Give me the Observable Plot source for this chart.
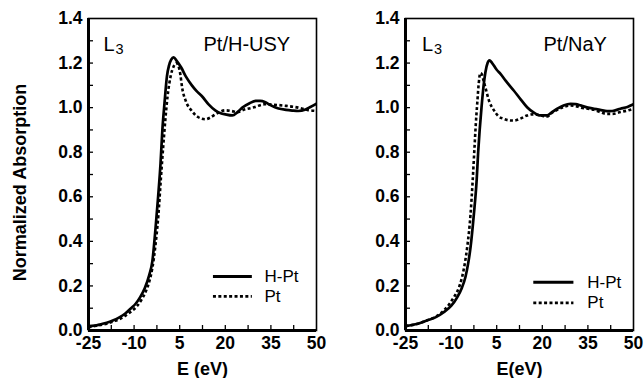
<!DOCTYPE html>
<html><head><meta charset="utf-8">
<script src="https://cdn.jsdelivr.net/npm/d3@7"></script>
<script src="https://cdn.jsdelivr.net/npm/@observablehq/plot@0.6"></script>
<style>
body{margin:0;background:#fff;}
#wrap{display:flex;width:644px;height:378px;overflow:hidden;background:#fff;}
#wrap svg{flex:none;}
</style></head><body><div id="wrap"></div>
<script>
// ---- tick labels / ticks ----
const yTickLabels = [0, 0.2, 0.4, 0.6, 0.8, 1.0, 1.2, 1.4];
const xTickLabels = [-25, -10, 5, 20, 35, 50];
const yMinorTicks = [0.1, 0.2, 0.3, 0.4, 0.5, 0.6, 0.7, 0.8, 0.9, 1.0, 1.1, 1.2, 1.3];
const xMinorTicks = [-17.5, -10, -2.5, 5, 12.5, 20, 27.5, 35, 42.5];
const seriesNames = ["H-Pt", "Pt"];

// ---- Pt/H-USY panel ----
const usyHPtE = [-25,-23,-21,-19,-17,-15,-13,-11,-9.5,-8,-6.5,-5,-4,-3,-2.1,-1.3,-0.7,0,0.8,1.5,2.2,3,4,5.5,7,9,10.5,12.4,14.5,16.8,18.5,20,22.3,24,25.6,28,30,31.5,33.2,35,37.5,40,42,44,46.4,48,50];
const usyHPtA = [0.02,0.022,0.028,0.035,0.045,0.058,0.075,0.1,0.12,0.15,0.19,0.25,0.31,0.45,0.6,0.75,0.9,1.02,1.14,1.19,1.215,1.226,1.21,1.18,1.14,1.1,1.075,1.05,1.015,0.987,0.975,0.97,0.965,0.98,1.0,1.02,1.03,1.03,1.024,1.01,0.996,0.99,0.987,0.985,0.992,1.003,1.018];
const usyPtE = [-25,-23,-21,-19,-17,-15,-13,-11,-9,-7.5,-6,-5,-4,-3,-2,-1.2,-0.4,0.3,1,2,3,3.8,4.5,5.2,5.8,7,9,11,13.5,15,17,20,22,24,26,29,33,36,40,44,47,50];
const usyPtA = [0.015,0.02,0.025,0.03,0.04,0.05,0.065,0.085,0.11,0.14,0.18,0.22,0.28,0.38,0.52,0.68,0.83,0.95,1.05,1.14,1.185,1.2,1.19,1.15,1.09,1.03,0.985,0.958,0.948,0.955,0.972,0.988,0.985,0.98,0.99,1.0,1.015,1.013,1.008,1.0,0.99,0.985];

// ---- Pt/NaY panel ----
const nayHPtE = [-25,-21,-18,-15,-12.4,-10,-8,-6.5,-5.3,-4.4,-3.6,-2.5,-1.6,-1.1,-0.6,0,0.7,1.3,2,2.6,3.5,5,6.25,8,10.6,13,15,17,19.4,21.6,23,24.9,27,29.3,31,32.6,35,37,39,41.3,43,45.7,48,50];
const nayHPtA = [0.02,0.03,0.045,0.06,0.082,0.11,0.149,0.19,0.239,0.3,0.374,0.523,0.673,0.8,0.9,1.0,1.1,1.16,1.2,1.212,1.2,1.17,1.152,1.12,1.077,1.035,1.002,0.98,0.965,0.965,0.978,0.995,1.01,1.017,1.016,1.01,1.0,0.995,0.99,0.984,0.985,0.995,1.003,1.015];
const nayPtE = [-25,-21,-18,-15,-12.4,-10.5,-9.1,-7.5,-6.4,-5.5,-4.7,-3.6,-2.9,-2.3,-1.9,-1.4,-0.9,-0.4,0.1,0.7,1.3,2.5,4,5.5,7.3,9,10.6,13,15,17,19.4,21.6,23,24.9,27,29.3,31,32.6,35,37,39,41.3,43,45.7,48,50];
const nayPtA = [0.02,0.03,0.045,0.062,0.09,0.12,0.149,0.19,0.239,0.3,0.374,0.523,0.673,0.822,0.92,1.02,1.11,1.155,1.15,1.12,1.09,1.03,0.99,0.962,0.95,0.943,0.942,0.952,0.965,0.97,0.965,0.96,0.975,0.99,1.003,1.01,1.007,1.0,0.995,0.99,0.98,0.972,0.972,0.98,0.987,0.995];

const FONT = "'Liberation Sans', Arial, Helvetica, sans-serif";
const toRows = (E, A) => E.map((e, i) => ({E: e, A: A[i]}));
const DASH = "3,2.4";

function panel(o) {
  const W = 322, H = 378, mt = 18, mb = 48;
  const fw = W - o.ml - o.mr, fh = H - mt - mb;
  const marks = [
    Plot.tickY(yMinorTicks, {y: d => d, insetRight: fw - 5, stroke: "#000", strokeWidth: 1.3}),
    Plot.tickX(xMinorTicks, {x: d => d, insetTop: fh - 5, stroke: "#000", strokeWidth: 1.3}),
    Plot.axisY(yTickLabels, {tickSize: 0, tickPadding: 6, tickFormat: d3.format(".1f"), label: null, fontSize: 17.5, fontWeight: "bold"}),
    Plot.axisX(xTickLabels, {tickSize: 0, tickPadding: 6, tickFormat: d => String(d), label: null, fontSize: 17.5, fontWeight: "bold"}),
    Plot.line(toRows(o.hE, o.hA), {x: "E", y: "A", stroke: "#000", strokeWidth: 2.7, curve: "monotone-x", clip: true}),
    Plot.line(toRows(o.pE, o.pA), {x: "E", y: "A", stroke: "#000", strokeWidth: 2.6, strokeDasharray: DASH, strokeLinecap: "butt", curve: "monotone-x", clip: true}),
    Plot.frame({stroke: "#000", strokeWidth: 1.6}),
    Plot.ruleX([-25], {stroke: "#000", strokeWidth: 3}),
    Plot.ruleY([0], {stroke: "#000", strokeWidth: 3}),
    // panel labels
    Plot.text(["L"], {frameAnchor: "top-left", dx: o.lDx, dy: 32, textAnchor: "start", lineAnchor: "bottom", fontSize: 20, fontWeight: "normal"}),
    Plot.text(["3"], {frameAnchor: "top-left", dx: o.lDx + 12, dy: 35, textAnchor: "start", lineAnchor: "bottom", fontSize: 14.5, fontWeight: "normal"}),
    Plot.text([o.title], {frameAnchor: "top-left", dx: o.tDx, dy: 32, textAnchor: "start", lineAnchor: "bottom", fontSize: 20, fontWeight: "normal"}),
    // legend
    Plot.ruleY([o.ly1], {x1: o.lx1, x2: o.lx2, stroke: "#000", strokeWidth: 3}),
    Plot.ruleY([o.ly2], {x1: o.lx1, x2: o.lx2, stroke: "#000", strokeWidth: 2.6, strokeDasharray: DASH, strokeLinecap: "butt"}),
    Plot.text([seriesNames[0]], {x: o.ltx, y: o.ly1, textAnchor: "start", lineAnchor: "middle", fontSize: 17, fontWeight: "normal"}),
    Plot.text([seriesNames[1]], {x: o.ltx, y: o.ly2, textAnchor: "start", lineAnchor: "middle", fontSize: 17, fontWeight: "normal"}),
    // x title
    Plot.text([o.xTitle], {frameAnchor: "bottom", textAnchor: "middle", lineAnchor: "middle", dy: 39, fontSize: 18, fontWeight: "bold"})
  ];
  if (o.yTitle) marks.push(Plot.text([o.yTitle], {frameAnchor: "left", textAnchor: "middle", lineAnchor: "middle", rotate: -90, dx: -68, dy: 8, fontSize: 18, fontWeight: "bold"}));
  return Plot.plot({
    width: W, height: H,
    marginLeft: o.ml, marginRight: o.mr, marginTop: mt, marginBottom: mb,
    style: {fontFamily: FONT, fontSize: "17.5px", fontWeight: "bold", color: "#000", background: "transparent", overflow: "visible"},
    x: {domain: [-25, 50]},
    y: {domain: [0, 1.4]},
    marks
  });
}

const wrap = document.getElementById("wrap");
wrap.append(panel({
  hE: usyHPtE, hA: usyHPtA, pE: usyPtE, pA: usyPtA,
  ml: 88, mr: 6, title: "Pt/H-USY", tDx: 115, lDx: 15,
  lx1: 16.1, lx2: 28.9, ltx: 32.9, ly1: 0.242, ly2: 0.153,
  xTitle: "E (eV)", yTitle: "Normalized Absorption"
}));
wrap.append(panel({
  hE: nayHPtE, hA: nayHPtA, pE: nayPtE, pA: nayPtA,
  ml: 83, mr: 11, title: "Pt/NaY", tDx: 138, lDx: 16.5,
  lx1: 17.2, lx2: 30.4, ltx: 34.8, ly1: 0.217, ly2: 0.124,
  xTitle: "E(eV)", yTitle: null
}));
</script></body></html>
